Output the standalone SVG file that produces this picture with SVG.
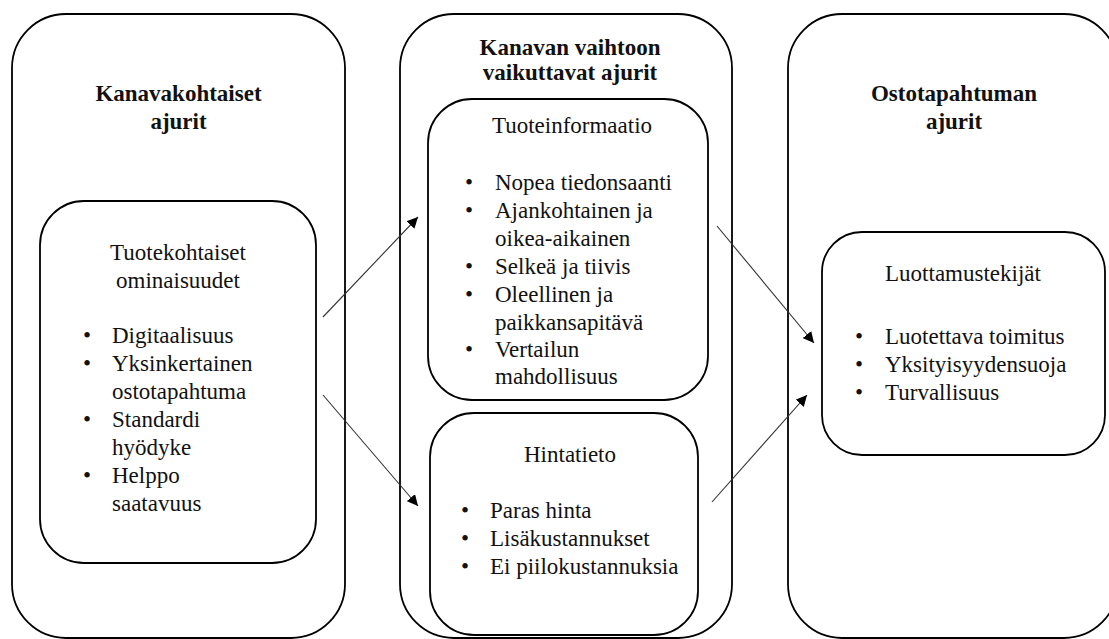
<svg xmlns="http://www.w3.org/2000/svg" width="1109" height="639" viewBox="0 0 1109 639">
<style>
.box{fill:none;stroke:#000;stroke-width:1.8}
.t{font-family:"Liberation Serif","Times New Roman",serif;font-size:23px;fill:#111}
.b{font-weight:bold}
.c{text-anchor:middle}
.arr{stroke:#333;stroke-width:1.1;fill:none;marker-end:url(#ah)}
</style>
<defs>
<marker id="ah" viewBox="0 0 10 10" refX="10" refY="5" markerWidth="11" markerHeight="11" markerUnits="userSpaceOnUse" orient="auto">
<path d="M0,0 L10,5 L0,10 z" fill="#000"/>
</marker>
</defs>
<rect width="1109" height="639" fill="#fff"/>
<g id="left-outer">
<rect class="box" x="12" y="14" width="333" height="624" rx="54"/>
<text class="t b c" x="178.5" y="101">Kanavakohtaiset</text>
<text class="t b c" x="178.5" y="129">ajurit</text>
</g>
<g id="left-inner">
<rect class="box" x="40" y="201" width="276" height="362" rx="44"/>
<text class="t c" x="178" y="260">Tuotekohtaiset</text>
<text class="t c" x="178" y="288">ominaisuudet</text>
<text class="t" x="83" y="343">•</text><text class="t" x="112" y="343">Digitaalisuus</text>
<text class="t" x="83" y="371">•</text><text class="t" x="112" y="371">Yksinkertainen</text>
<text class="t" x="112" y="399">ostotapahtuma</text>
<text class="t" x="83" y="427">•</text><text class="t" x="112" y="427">Standardi</text>
<text class="t" x="112" y="455">hyödyke</text>
<text class="t" x="83" y="483">•</text><text class="t" x="112" y="483">Helppo</text>
<text class="t" x="112" y="511">saatavuus</text>
</g>
<g id="middle-outer">
<rect class="box" x="400" y="14" width="332" height="624" rx="54"/>
<text class="t b c" x="570" y="55">Kanavan vaihtoon</text>
<text class="t b c" x="570" y="80">vaikuttavat ajurit</text>
</g>
<g id="tuoteinformaatio">
<rect class="box" x="428" y="99" width="280" height="301" rx="44"/>
<text class="t c" x="572" y="133">Tuoteinformaatio</text>
<text class="t" x="465" y="190">•</text><text class="t" x="495" y="190">Nopea tiedonsaanti</text>
<text class="t" x="465" y="218">•</text><text class="t" x="495" y="218">Ajankohtainen ja</text>
<text class="t" x="495" y="246">oikea-aikainen</text>
<text class="t" x="465" y="274">•</text><text class="t" x="495" y="274">Selkeä ja tiivis</text>
<text class="t" x="465" y="302">•</text><text class="t" x="495" y="302">Oleellinen ja</text>
<text class="t" x="495" y="330">paikkansapitävä</text>
<text class="t" x="465" y="357">•</text><text class="t" x="495" y="357">Vertailun</text>
<text class="t" x="495" y="384">mahdollisuus</text>
</g>
<g id="hintatieto">
<rect class="box" x="430" y="413" width="268" height="222" rx="44"/>
<text class="t c" x="570" y="462">Hintatieto</text>
<text class="t" x="461" y="518">•</text><text class="t" x="490" y="518">Paras hinta</text>
<text class="t" x="461" y="546">•</text><text class="t" x="490" y="546">Lisäkustannukset</text>
<text class="t" x="461" y="574">•</text><text class="t" x="490" y="574">Ei piilokustannuksia</text>
</g>
<g id="right-outer">
<rect class="box" x="788" y="14" width="330" height="624" rx="54"/>
<text class="t b c" x="954" y="101">Ostotapahtuman</text>
<text class="t b c" x="954" y="129">ajurit</text>
</g>
<g id="luottamustekijat">
<rect class="box" x="822" y="232" width="283" height="223" rx="40"/>
<text class="t c" x="963" y="281">Luottamustekijät</text>
<text class="t" x="855" y="344">•</text><text class="t" x="885" y="344">Luotettava toimitus</text>
<text class="t" x="855" y="372">•</text><text class="t" x="885" y="372">Yksityisyydensuoja</text>
<text class="t" x="855" y="400">•</text><text class="t" x="885" y="400">Turvallisuus</text>
</g>
<g id="connectors">
<line class="arr" x1="323" y1="317" x2="418" y2="217"/>
<line class="arr" x1="323" y1="395" x2="418" y2="506"/>
<line class="arr" x1="717" y1="226" x2="814" y2="343"/>
<line class="arr" x1="712" y1="502" x2="807" y2="395"/>
</g>
</svg>
